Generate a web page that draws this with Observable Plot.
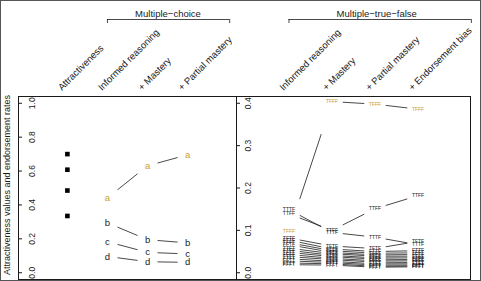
<!DOCTYPE html>
<html>
<head>
<meta charset="utf-8">
<script src="https://cdn.jsdelivr.net/npm/d3@7"></script>
<script src="https://cdn.jsdelivr.net/npm/@observablehq/plot@0.6"></script>
<style>
  html, body { margin: 0; padding: 0; background: #fff; }
  #chart { position: relative; width: 481px; height: 281px; overflow: hidden; background: #fff; }
  #chart svg { position: absolute; top: 0; }
  #border { position: absolute; left: 0; top: 0; width: 481px; height: 281px; box-sizing: border-box; border: 1px solid #555; pointer-events: none; }
</style>
</head>
<body>
<div id="chart"><div id="border"></div></div>
<script>
// Column headings of the two panels
const leftColumns = ["Attractiveness", "Informed reasoning", "+ Mastery", "+ Partial mastery"];
const rightColumns = ["Informed reasoning", "+ Mastery", "+ Partial mastery", "+ Endorsement bias"];

// Multiple-choice: attractiveness of the options, then endorsement rates per model
const mcOptions = ["a", "b", "c", "d"];
const attractiveness = [0.700, 0.608, 0.485, 0.335];
const mcInformed = [0.442, 0.294, 0.183, 0.096];
const mcMastery  = [0.631, 0.195, 0.120, 0.065];
const mcPartial  = [0.696, 0.176, 0.111, 0.061];

// Multiple-true-false: endorsement rates of each response pattern per model
const mtfPatterns = ["TFFF", "TTFF", "TTTF", "TFTF", "FTTF", "TFFT", "FFTF", "TTFT",
                     "FTFF", "TFTT", "FFFF", "TTTT", "FTFT", "FFTT", "FTTT", "FFFT"];
const mtfInformed = [0.097, 0.139, 0.149, 0.082, 0.077, 0.071, 0.066, 0.058, 0.053, 0.048, 0.043, 0.038, 0.033, 0.028, 0.023, 0.019];
const mtfMastery  = [0.404, 0.100, 0.095, 0.063, 0.056, 0.052, 0.048, 0.045, 0.041, 0.038, 0.034, 0.031, 0.027, 0.024, 0.021, 0.018];
const mtfPartial  = [0.398, 0.151, 0.084, 0.057, 0.050, 0.046, 0.042, 0.039, 0.035, 0.032, 0.028, 0.025, 0.021, 0.018, 0.015, 0.013];
const mtfEndorse  = [0.386, 0.182, 0.066, 0.074, 0.052, 0.047, 0.043, 0.039, 0.035, 0.031, 0.028, 0.024, 0.021, 0.018, 0.016, 0.014];

const leftTicks = [0, 0.2, 0.4, 0.6, 0.8, 1.0];
const rightTicks = [0, 0.1, 0.2, 0.3, 0.4];

const correctOption = "a";
const correctPattern = "TFFF";

const gold = "#c9a035";
const ink = "#1a1a1a";
const font = "'Liberation Sans', Arial, Helvetica, sans-serif";
const fmt = d3.format(".1f");

// Points: one row per (column, series)
function rows(columnsValues, labels, firstColumn) {
  const out = [];
  columnsValues.forEach((vals, c) => vals.forEach((v, s) => out.push({col: firstColumn + c, rate: v, label: labels[s]})));
  return out;
}
// Connecting segments with a gap around each label (central half of each step)
function gapSegments(columnsValues, labels, firstColumn) {
  const out = [];
  for (let s = 0; s < labels.length; s++) {
    for (let c = 0; c < columnsValues.length - 1; c++) {
      const v0 = columnsValues[c][s], v1 = columnsValues[c + 1][s];
      out.push({
        x1: firstColumn + c + 0.25, x2: firstColumn + c + 0.75,
        y1: v0 + 0.25 * (v1 - v0), y2: v0 + 0.75 * (v1 - v0)
      });
    }
  }
  return out;
}

const mcRows = rows([mcInformed, mcMastery, mcPartial], mcOptions, 2);
const mcSegs = gapSegments([mcInformed, mcMastery, mcPartial], mcOptions, 2);
const mtfRows = rows([mtfInformed, mtfMastery, mtfPartial, mtfEndorse], mtfPatterns, 1);
const mtfSegs = gapSegments([mtfInformed, mtfMastery, mtfPartial, mtfEndorse], mtfPatterns, 1);

const xDomain = [-0.22, 5.22];
const H = 281, MT = 96, MB = 2;
const frameMid = (MT + H - MB) / 2;

function headerMarks(columns, bracketFrom, bracketTo, title, titleX) {
  return [
    Plot.text(columns, {
      x: (d, i) => i + 1, frameAnchor: "top", dx: -5.5, dy: -5.5,
      rotate: -45, textAnchor: "start", lineAnchor: "bottom",
      text: d => d, fontSize: 9.5, fill: ink
    }),
    Plot.ruleY([0], {y: null, x1: bracketFrom, x2: bracketTo, dy: 19 - frameMid, stroke: ink, strokeWidth: 0.8}),
    Plot.ruleX([bracketFrom, bracketTo], {insetBottom: H - MB - MT - 4, dy: 19 - MT, stroke: ink, strokeWidth: 0.8}),
    Plot.text([title], {x: titleX, frameAnchor: "top", dy: 10 - MT, text: d => d, textAnchor: "middle", fontSize: 9.5, fill: ink})
  ];
}

const left = Plot.plot({
  width: 237, height: H,
  marginLeft: 18, marginRight: 1, marginTop: MT, marginBottom: MB,
  x: {domain: xDomain, axis: null},
  y: {domain: [-0.04, 1.04], axis: null},
  style: {fontFamily: font, background: "transparent", overflow: "visible"},
  marks: [
    Plot.frame({stroke: ink, strokeWidth: 1}),
    Plot.tickY(leftTicks, {y: d => d, insetRight: 218 - 4, stroke: ink}),
    Plot.text(leftTicks, {y: d => d, text: d => fmt(d), frameAnchor: "left", dx: 13.5, rotate: -90, textAnchor: "middle", fontSize: 8.5, fill: ink}),
    Plot.text(["Attractiveness values and endorsement rates"], {frameAnchor: "left", dx: -11, dy: -3, rotate: -90, textAnchor: "middle", text: d => d, fontSize: 9, fill: ink}),
    Plot.dot(attractiveness, {x: 1, y: d => d, symbol: "square", r: 2.6, fill: "#000", stroke: null}),
    Plot.link(mcSegs, {x1: "x1", y1: "y1", x2: "x2", y2: "y2", stroke: ink, strokeWidth: 0.8}),
    Plot.text(mcRows.filter(d => d.label === correctOption), {x: "col", y: "rate", text: "label", fontSize: 9.5, fill: gold}),
    Plot.text(mcRows.filter(d => d.label !== correctOption), {x: "col", y: "rate", text: "label", fontSize: 9.5, fill: ink}),
    ...headerMarks(leftColumns, 2, 5.05, "Multiple\u2212choice", 3.51)
  ]
});
left.style.left = "0px";

const right = Plot.plot({
  width: 245, height: H,
  marginLeft: 0, marginRight: 11, marginTop: MT, marginBottom: MB,
  x: {domain: xDomain, axis: null},
  y: {domain: [-0.016, 0.416], axis: null},
  style: {fontFamily: font, background: "transparent", overflow: "visible"},
  marks: [
    Plot.frame({stroke: ink, strokeWidth: 1}),
    Plot.tickY(rightTicks, {y: d => d, insetRight: 234 - 4, stroke: ink}),
    Plot.text(rightTicks, {y: d => d, text: d => fmt(d), frameAnchor: "left", dx: 11.5, rotate: -90, textAnchor: "middle", fontSize: 8.5, fill: ink}),
    Plot.link(mtfSegs, {x1: "x1", y1: "y1", x2: "x2", y2: "y2", stroke: ink, strokeWidth: 0.8}),
    Plot.text(mtfRows.filter(d => d.label !== correctPattern), {x: "col", y: "rate", text: "label", fontSize: 5, fill: ink}),
    Plot.text(mtfRows.filter(d => d.label === correctPattern), {x: "col", y: "rate", text: "label", fontSize: 5, fill: gold}),
    ...headerMarks(rightColumns, 1, 5.24, "Multiple\u2212true\u2212false", 3.04)
  ]
});
right.style.left = "236px";

const chart = document.getElementById("chart");
chart.insertBefore(right, chart.firstChild);
chart.insertBefore(left, chart.firstChild);
</script>
</body>
</html>
